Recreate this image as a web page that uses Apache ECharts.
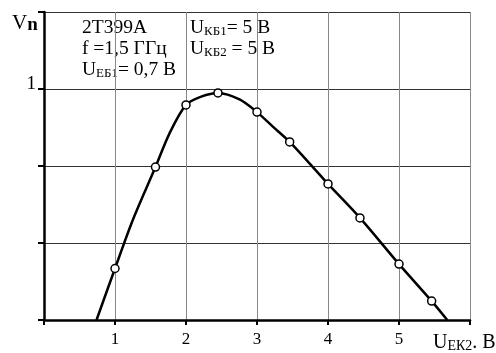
<!DOCTYPE html>
<html><head><meta charset="utf-8">
<script src="https://cdn.jsdelivr.net/npm/echarts@6/dist/echarts.min.js"></script>
<style>html,body{margin:0;padding:0;background:#fff}#c{width:496px;height:353px}</style>
</head><body><div id="c"></div>
<script>
// Curve (where it meets the axis + points along the drawn line)
const curveX = [0.74, 1.0, 1.251, 1.57, 1.768, 2.0, 2.214, 2.45, 2.754, 3.0, 3.223, 3.46, 3.739, 4.0, 4.45, 5.0, 5.46, 5.68];
const curveY = [0.0, 0.223, 0.433, 0.662, 0.808, 0.931, 0.967, 0.983, 0.955, 0.900, 0.837, 0.771, 0.678, 0.589, 0.442, 0.242, 0.082, 0.0];
// Marked measurement points
const pointX = [1.0, 1.57, 2.0, 2.45, 3.0, 3.46, 4.0, 4.45, 5.0, 5.46];
const pointY = [0.223, 0.662, 0.931, 0.983, 0.900, 0.771, 0.589, 0.442, 0.242, 0.082];
const xTickLabels = ['1','2','3','4','5'];
const yTickLabels = ['1'];

const F = 'Liberation Serif, Times New Roman, serif';
const chart = echarts.init(document.getElementById('c'), null, {renderer:'canvas'});
const rich = {
  b:{fontFamily:F, fontSize:19.5, color:'#000'},
  s:{fontFamily:F, fontSize:13, color:'#000', padding:[7,0,0,0]}
};
chart.setOption({
  animation:false,
  grid:{left:44, right:26, top:12, bottom:33, containLabel:false},
  xAxis:{type:'value', min:0, max:6, interval:1,
    axisLine:{lineStyle:{color:'#000', width:2.5}},
    axisTick:{show:true, length:5, lineStyle:{color:'#000', width:2}},
    axisLabel:{fontFamily:F, fontSize:17, color:'#000', margin:11,
      formatter:v=>{const i=Math.round(v); return (Math.abs(v-i)<1e-6 && xTickLabels.indexOf(String(i))>=0)?String(i):'';}},
    splitLine:{show:true, lineStyle:{color:'#888', width:1}}
  },
  yAxis:{type:'value', min:0, max:4/3, interval:1/3,
    axisLine:{show:true, lineStyle:{color:'#000', width:2.5}},
    axisTick:{show:true, length:6, lineStyle:{color:'#000', width:2}},
    axisLabel:{fontFamily:F, fontSize:19, color:'#000', margin:8, verticalAlign:'bottom', lineHeight:9,
      formatter:v=>{return yTickLabels.filter(t=>Math.abs(+t-v)<1e-6).length?yTickLabels[0]:'';}},
    splitLine:{show:true, lineStyle:{color:'#333', width:1}}
  },
  series:[
    {type:'line', data:curveX.map((x,i)=>[x,curveY[i]]), smooth:0.3, showSymbol:false,
     lineStyle:{color:'#000', width:2.5}, z:3},
    {type:'scatter', data:pointX.map((x,i)=>[x,pointY[i]]), symbol:'circle', symbolSize:8,
     itemStyle:{color:'#fff', borderColor:'#000', borderWidth:1.5, opacity:1}, z:4}
  ],
  graphic:[
    {type:'text', left:12, top:13, style:{text:'{b|V}{n|n}', rich:{b:{fontFamily:F,fontSize:21,color:'#000'}, n:{fontFamily:F,fontSize:19,color:'#000',fontWeight:'bold',padding:[3,0,0,0]}}}},
    {type:'text', left:82, top:18, style:{text:'{b|2T399A}', rich}},
    {type:'text', left:190, top:18, style:{text:'{b|U}{s|КБ1}{b|= 5 В}', rich}},
    {type:'text', left:82, top:39, style:{text:'{b|f =1,5 ГГц}', rich}},
    {type:'text', left:190, top:39, style:{text:'{b|U}{s|КБ2}{b| = 5 В}', rich}},
    {type:'text', left:82, top:60, style:{text:'{b|U}{s|ЕБ1}{b|= 0,7 В}', rich}},
    {type:'text', left:433, top:333, style:{text:'{b|U}{s|ЕК2}{b|. В}', rich:{b:{fontFamily:F,fontSize:20,color:'#000'}, s:{fontFamily:F,fontSize:14,color:'#000',padding:[7,0,0,0]}}}}
  ]
});
</script></body></html>
